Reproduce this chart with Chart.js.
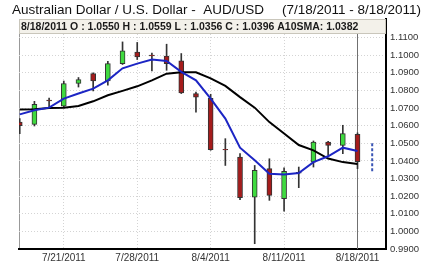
<!DOCTYPE html>
<html>
<head>
<meta charset="utf-8">
<script src="https://cdn.jsdelivr.net/npm/chart.js@4"></script>
<style>
  html, body { margin: 0; padding: 0; background: #fff; }
  #wrap { width: 422px; height: 264px; }
</style>
</head>
<body>
<div id="wrap"><canvas id="fxChart" width="422" height="264"></canvas></div>
<script>
// trading days, 7/18/2011 .. 8/18/2011 (index = x position)
var days = ['7/18', '7/19', '7/20', '7/21', '7/22', '7/25', '7/26', '7/27', '7/28', '7/29',
    '8/1', '8/2', '8/3', '8/4', '8/5', '8/8', '8/9', '8/10', '8/11', '8/12',
    '8/15', '8/16', '8/17', '8/18'];
var open = [1.0620, 1.0607, 1.0745, 1.0710, 1.0839, 1.0895, 1.0853, 1.0952, 1.1018, 1.1000,
    1.0994, 1.0967, 1.0782, 1.0755, 1.0466, 1.0422, 1.0194, 1.0356, 1.0185, 1.0335,
    1.0393, 1.0507, 1.0488, 1.0550];
var high = [1.0640, 1.0738, 1.0757, 1.0853, 1.0873, 1.0899, 1.0965, 1.1075, 1.1072, 1.1012,
    1.1062, 1.1009, 1.0791, 1.0778, 1.0526, 1.0441, 1.0374, 1.0412, 1.0361, 1.0365,
    1.0513, 1.0511, 1.0602, 1.0559];
var low = [1.0555, 1.0598, 1.0706, 1.0702, 1.0819, 1.0797, 1.0829, 1.0947, 1.0975, 1.0910,
    1.0914, 1.0782, 1.0677, 1.0460, 1.0374, 1.0180, 0.9930, 1.0176, 1.0115, 1.0248,
    1.0365, 1.0431, 1.0441, 1.0356];
var close = [1.0600, 1.0721, 1.0740, 1.0839, 1.0861, 1.0853, 1.0952, 1.1024, 1.0990, 1.0995,
    1.0952, 1.0785, 1.0762, 1.0464, 1.0462, 1.0191, 1.0346, 1.0204, 1.0340, 1.0330,
    1.0507, 1.0488, 1.0555, 1.0396];
var fastAvg = [1.0664, 1.0687, 1.0702, 1.0753, 1.0782, 1.0810, 1.0857, 1.0925, 1.0952, 1.0975,
    1.0967, 1.0905, 1.0857, 1.0753, 1.0640, 1.0475, 1.0403, 1.0327, 1.0323, 1.0331,
    1.0393, 1.0426, 1.0475, 1.0456];
var sma10 = [1.0692, 1.0693, 1.0700, 1.0702, 1.0711, 1.0738, 1.0772, 1.0797, 1.0823, 1.0857,
    1.0895, 1.0903, 1.0903, 1.0868, 1.0825, 1.0762, 1.0702, 1.0620, 1.0555, 1.0490,
    1.0460, 1.0413, 1.0393, 1.0382];

// next (partial) session drawn dashed
var nextDay = [24];
var nextHigh = [1.0500];
var nextLow = [1.0330];

var cursorDay = 23;
var xTickDays = [3, 8, 13, 18, 23];
var xTickLabels = ['7/21/2011', '7/28/2011', '8/4/2011', '8/11/2011', '8/18/2011'];
var yTicks = [0.99, 1.00, 1.01, 1.02, 1.03, 1.04, 1.05, 1.06, 1.07, 1.08, 1.09, 1.10, 1.11];
var yMin = 0.99, yMax = 1.1205;

var titleLeft = 'Australian Dollar / U.S. Dollar -  AUD/USD';
var titleRight = '(7/18/2011 - 8/18/2011)';
var last = days.length - 1;
var headerText = days[last] + '/2011 O : ' + open[last].toFixed(4) + ' H : ' + high[last].toFixed(4) +
    ' L : ' + low[last].toFixed(4) + ' C : ' + close[last].toFixed(4) + ' A10SMA: ' + sma10[last].toFixed(4);

var bodies = [], wicks = [], bodyColors = [], fastPts = [], smaPts = [];
for (var i = 0; i < days.length; i++) {
    bodies.push({ x: i, y: [open[i], close[i]] });
    wicks.push({ x: i, y: [low[i], high[i]] });
    bodyColors.push(close[i] >= open[i] ? '#3fda3f' : '#a51c1c');
    fastPts.push({ x: i, y: fastAvg[i] });
    smaPts.push({ x: i, y: sma10[i] });
}
var nextPts = [{ x: nextDay[0], y: nextHigh[0] }, { x: nextDay[0], y: nextLow[0] }];
var cursorPts = [{ x: cursorDay, y: yMin }, { x: cursorDay, y: yMax }];

var framePlugin = {
    id: 'frame',
    beforeDraw: function (chart) {
        var ctx = chart.ctx, a = chart.chartArea;
        ctx.save();
        ctx.fillStyle = '#fff';
        ctx.fillRect(0, 0, chart.width, chart.height);
        ctx.fillStyle = '#111';
        ctx.font = '13.5px "Liberation Sans", Arial, sans-serif';
        ctx.textBaseline = 'alphabetic';
        ctx.textAlign = 'left';
        ctx.fillText(titleLeft, 12, 14);
        ctx.textAlign = 'right';
        ctx.fillText(titleRight, 421, 14);
        ctx.strokeStyle = '#999';
        ctx.lineWidth = 1;
        ctx.beginPath();
        ctx.moveTo(a.left + 0.5, a.top);
        ctx.lineTo(a.left + 0.5, a.bottom);
        ctx.stroke();
        ctx.restore();
    },
    afterDatasetsDraw: function (chart) {
        var ctx = chart.ctx, a = chart.chartArea;
        ctx.save();
        ctx.fillStyle = '#f3f1ea';
        ctx.fillRect(a.left, a.top, a.right - a.left, 14);
        ctx.strokeStyle = '#c9c6bb';
        ctx.lineWidth = 1;
        ctx.strokeRect(a.left + 0.5, a.top + 0.5, a.right - a.left - 1, 14);
        ctx.fillStyle = '#1a1a1a';
        ctx.font = 'bold 10.5px "Liberation Sans", Arial, sans-serif';
        ctx.textAlign = 'left';
        ctx.textBaseline = 'alphabetic';
        ctx.fillText(headerText, a.left + 2, a.top + 11);
        ctx.restore();
    }
};

var ctx = document.getElementById('fxChart').getContext('2d');
var fxChart = new Chart(ctx, {
    type: 'bar',
    data: {
        datasets: [{
            type: 'line',
            data: fastPts,
            borderColor: '#1c25c4',
            borderWidth: 2,
            pointRadius: 0,
            order: 0
        }, {
            type: 'line',
            data: smaPts,
            borderColor: '#000',
            borderWidth: 2,
            pointRadius: 0,
            order: 1
        }, {
            type: 'line',
            data: nextPts,
            borderColor: '#3a55b5',
            borderWidth: 2,
            borderDash: [3, 2],
            pointRadius: 0,
            order: 1
        }, {
            data: bodies,
            backgroundColor: bodyColors,
            borderColor: '#333',
            borderWidth: 1,
            borderSkipped: false,
            barThickness: 5,
            grouped: false,
            order: 2
        }, {
            data: wicks,
            backgroundColor: '#333',
            borderWidth: 0,
            barThickness: 1,
            grouped: false,
            order: 3
        }, {
            type: 'line',
            data: cursorPts,
            borderColor: '#707070',
            borderWidth: 1,
            pointRadius: 0,
            order: 4
        }]
    },
    options: {
        responsive: false,
        animation: false,
        layout: { padding: { left: 19, top: 19, right: 0, bottom: 0 } },
        plugins: {
            legend: { display: false },
            tooltip: { enabled: false },
            title: { display: false }
        },
        scales: {
            x: {
                type: 'linear',
                offset: false,
                min: -0.05,
                max: 24.94,
                afterBuildTicks: function (scale) {
                    scale.ticks = xTickDays.map(function (d) { return { value: d }; });
                },
                afterFit: function (scale) { scale.height = 15; },
                ticks: {
                    autoSkip: false,
                    maxRotation: 0,
                    padding: 3,
                    color: '#333',
                    font: { family: '"Liberation Sans", Arial, sans-serif', size: 10 },
                    callback: function (value) {
                        return xTickLabels[xTickDays.indexOf(value)];
                    }
                },
                grid: { color: '#d4d4d4', drawTicks: false, offset: false },
                border: { color: '#000', width: 2, dash: [1, 2] }
            },
            y: {
                position: 'right',
                min: yMin,
                max: yMax,
                afterBuildTicks: function (scale) {
                    scale.ticks = yTicks.map(function (v) { return { value: v }; });
                },
                afterFit: function (scale) { scale.width = 36; },
                ticks: {
                    padding: 4,
                    color: '#333',
                    font: { family: '"Liberation Sans", Arial, sans-serif', size: 9.5 },
                    callback: function (value) { return value.toFixed(4); }
                },
                grid: { color: '#d4d4d4', drawTicks: false },
                border: { color: '#000', width: 2, dash: [1, 2] }
            }
        }
    },
    plugins: [framePlugin]
});
</script>
</body>
</html>
